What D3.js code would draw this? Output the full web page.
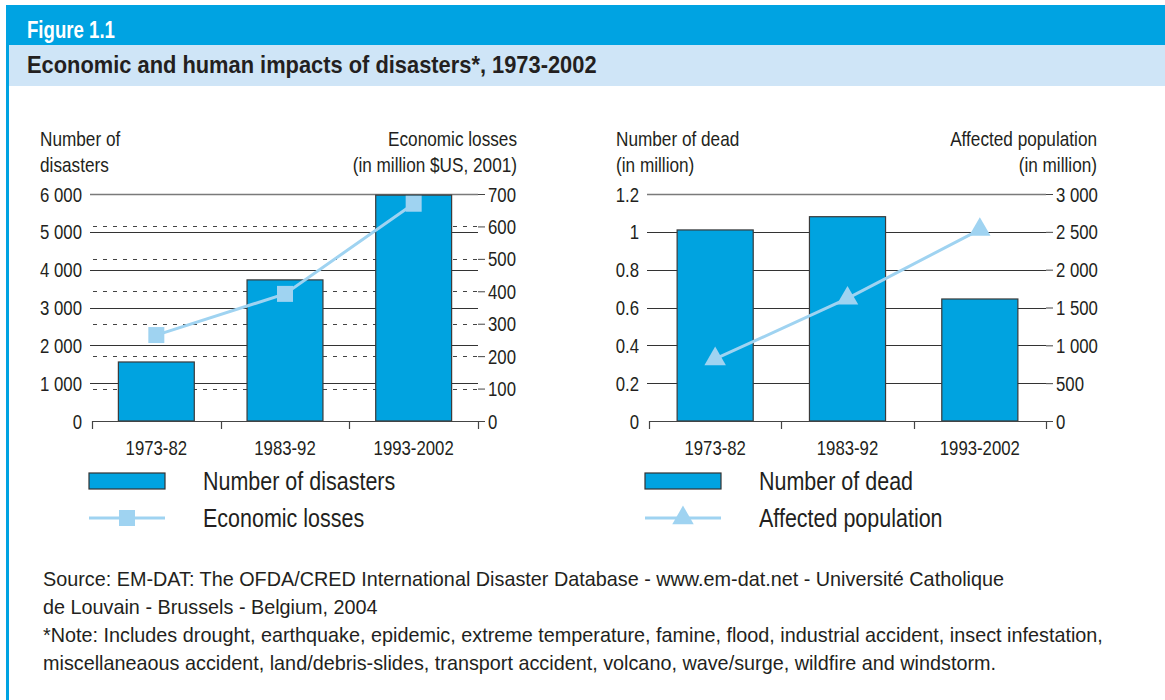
<!DOCTYPE html>
<html>
<head>
<meta charset="utf-8">
<script src="https://cdn.jsdelivr.net/npm/d3@7"></script>
<style>
  html, body { margin: 0; padding: 0; background: #fff; }
  svg { display: block; }
  text { font-family: "Liberation Sans", Arial, Helvetica, sans-serif; fill: #231f20; }
</style>
</head>
<body>
<svg id="chart" width="1165" height="700"></svg>
<script>
// ---- data ----
const periods = ["1973-82", "1983-92", "1993-2002"];
const disasterCounts = [1560, 3730, 5970];          // number of disasters
const economicLosses = [265, 392, 670];              // million $US (2001)
const deadMillions = [1.01, 1.08, 0.645];            // number of dead, million
const affectedMillions = [820, 1620, 2530];          // affected population, million

const leftTicks = [0, 1000, 2000, 3000, 4000, 5000, 6000];
const lossTicks = [0, 100, 200, 300, 400, 500, 600, 700];
const deadTicks = [0, 0.2, 0.4, 0.6, 0.8, 1, 1.2];
const affectedTicks = [0, 500, 1000, 1500, 2000, 2500, 3000];

// ---- styling ----
const BLUE = "#00a3e2";
const PALE = "#cfe5f7";
const BAR = "#00a3e0";
const LINE = "#9fd3f1";
const INK = "#231f20";
const K = 0.86; // horizontal condensing of the type

const svg = d3.select("#chart");
const fmtSpace = d => d3.format(",")(d).replace(/,/g, " ");

// condensed text helper
function ctext(g, x, y, str, size, opts = {}) {
  const t = g.append("text")
    .attr("transform", `translate(${x},${y}) scale(${opts.k || K},1)`)
    .attr("font-size", size)
    .attr("text-anchor", opts.anchor || "start")
    .text(str);
  if (opts.bold) t.attr("font-weight", "bold");
  if (opts.fill) t.style("fill", opts.fill);
  return t;
}

// ---- frame and header ----
svg.append("rect").attr("x", 8).attr("y", 5).attr("width", 1157).attr("height", 40).attr("fill", BLUE);
svg.append("rect").attr("x", 8).attr("y", 45).attr("width", 1157).attr("height", 41).attr("fill", PALE);
svg.append("rect").attr("x", 6).attr("y", 5).attr("width", 3).attr("height", 695).attr("fill", BLUE);
ctext(svg, 27, 38, "Figure 1.1", 24.5, { bold: true, fill: "#fff", k: 0.76 });
ctext(svg, 27, 73, "Economic and human impacts of disasters*, 1973-2002", 23.5, { bold: true, k: 0.93 });

// ---- generic dual-axis panel ----
function panel(cfg) {
  const g = svg.append("g");
  const x = d3.scaleBand().domain(periods).range([cfg.x0, cfg.x1]).paddingInner(cfg.pad).paddingOuter(cfg.pad / 2);
  const yL = d3.scaleLinear().domain([0, cfg.leftTicks[cfg.leftTicks.length - 1]]).range([421, 194]);
  const yR = d3.scaleLinear().domain([0, cfg.rightTicks[cfg.rightTicks.length - 1]]).range([421, 194]);

  // dashed grid for the right axis (when it does not coincide with the left one)
  if (cfg.dashed) {
    g.append("g").selectAll("line").data(cfg.rightTicks.filter(d => d > 0 && d < cfg.rightTicks[cfg.rightTicks.length - 1]))
      .join("line")
      .attr("x1", cfg.x0 + 1).attr("x2", cfg.x1)
      .attr("y1", d => Math.round(yR(d)) + 0.5).attr("y2", d => Math.round(yR(d)) + 0.5)
      .attr("stroke", "#444").attr("stroke-width", 1).attr("stroke-dasharray", "4,6");
  }
  // solid grid for the left axis
  g.append("g").selectAll("line").data(cfg.leftTicks.filter(d => d > 0))
    .join("line")
    .attr("x1", cfg.x0 - 2).attr("x2", cfg.x1)
    .attr("y1", d => Math.round(yL(d)) + 0.5).attr("y2", d => Math.round(yL(d)) + 0.5)
    .attr("stroke", (d, i, a) => i === a.length - 1 ? "#7a7a7a" : "#333")
    .attr("stroke-width", (d, i, a) => i === a.length - 1 ? 1.5 : 1);

  // right axis ticks and labels
  const rAxis = d3.axisRight(yR).tickValues(cfg.rightTicks).tickSize(7).tickPadding(3).tickFormat(cfg.rightFmt);
  const ra = g.append("g").attr("transform", `translate(${cfg.x1},0)`).call(rAxis);
  ra.select(".domain").remove();
  ra.selectAll(".tick line").attr("stroke", "#444");
  ra.selectAll(".tick text").attr("font-size", null).attr("x", null).attr("dy", null)
    .each(function () {
      const t = d3.select(this);
      t.attr("transform", `translate(10,7) scale(${K},1)`).attr("font-size", 19.5).style("fill", INK)
        .attr("font-family", null);
    });

  // left axis labels
  const lAxis = d3.axisLeft(yL).tickValues(cfg.leftTicks).tickSize(0).tickPadding(0).tickFormat(cfg.leftFmt);
  const la = g.append("g").attr("transform", `translate(${cfg.x0 - 10},0)`).call(lAxis);
  la.select(".domain").remove();
  la.selectAll(".tick text").attr("x", null).attr("dy", null).attr("font-family", null)
    .attr("transform", `translate(0,7) scale(${K},1)`).attr("font-size", 19.5).style("fill", INK);

  // bars
  g.append("g").selectAll("rect").data(cfg.bars).join("rect")
    .attr("x", (d, i) => x(periods[i]))
    .attr("width", x.bandwidth())
    .attr("y", d => yL(d))
    .attr("height", d => 421 - yL(d))
    .attr("fill", BAR).attr("stroke", "#3a3a3a").attr("stroke-width", 1.2);

  // bottom axis
  const bAxis = d3.axisBottom(x).tickSize(0).tickPadding(0);
  const ba = g.append("g").attr("transform", "translate(0,421)").call(bAxis);
  ba.select(".domain").remove();
  ba.selectAll(".tick text").attr("y", null).attr("dy", null).attr("font-family", null)
    .attr("transform", `translate(0,34) scale(${K},1)`).attr("font-size", 19.5).style("fill", INK);
  g.append("line").attr("x1", cfg.x0).attr("x2", cfg.x1).attr("y1", 421.5).attr("y2", 421.5)
    .attr("stroke", "#444").attr("stroke-width", 1.2);
  const bounds = [cfg.x0].concat(periods.map(p => x(p) + x.bandwidth() + x.step() * cfg.pad / 2));
  g.append("g").selectAll("line").data(bounds).join("line")
    .attr("x1", d => Math.round(d) + 0.5).attr("x2", d => Math.round(d) + 0.5)
    .attr("y1", 421).attr("y2", 429).attr("stroke", "#444").attr("stroke-width", 1.2);

  // line series
  const pts = cfg.line.map((v, i) => [x(periods[i]) + x.bandwidth() / 2, yR(v)]);
  g.append("path").attr("d", d3.line()(pts)).attr("fill", "none").attr("stroke", LINE).attr("stroke-width", 3);
  g.append("g").selectAll("path").data(pts).join("path")
    .attr("transform", d => `translate(${d[0]},${d[1]})`)
    .attr("d", d3.symbol().type(cfg.symbol).size(cfg.symbolSize))
    .attr("fill", LINE);

  // axis titles
  ctext(g, cfg.titleLX, 146, cfg.titleL[0], 20);
  ctext(g, cfg.titleLX, 172, cfg.titleL[1], 20);
  ctext(g, cfg.titleRX, 146, cfg.titleR[0], 20, { anchor: "end" });
  ctext(g, cfg.titleRX, 172, cfg.titleR[1], 20, { anchor: "end" });

  // legend
  const lg = g.append("g");
  lg.append("rect").attr("x", cfg.legX).attr("y", 473).attr("width", 76).attr("height", 16)
    .attr("fill", BAR).attr("stroke", "#333").attr("stroke-width", 1.2);
  lg.append("line").attr("x1", cfg.legX).attr("x2", cfg.legX + 76).attr("y1", 518).attr("y2", 518)
    .attr("stroke", LINE).attr("stroke-width", 3);
  lg.append("path").attr("transform", `translate(${cfg.legX + 38},518)`)
    .attr("d", d3.symbol().type(cfg.symbol).size(cfg.symbolSize)).attr("fill", LINE);
  ctext(lg, cfg.legX + 114, 490, cfg.legend[0], 25);
  ctext(lg, cfg.legX + 114, 527, cfg.legend[1], 25);
}

panel({
  x0: 92, x1: 478, pad: 0.41,
  leftTicks: leftTicks, rightTicks: lossTicks, dashed: true,
  leftFmt: fmtSpace, rightFmt: d3.format("d"),
  bars: disasterCounts, line: economicLosses,
  symbol: d3.symbolSquare, symbolSize: 256,
  titleL: ["Number of", "disasters"], titleLX: 40,
  titleR: ["Economic losses", "(in million $US, 2001)"], titleRX: 517,
  legX: 89, legend: ["Number of disasters", "Economic losses"]
});

panel({
  x0: 649, x1: 1046, pad: 0.425,
  leftTicks: deadTicks, rightTicks: affectedTicks, dashed: false,
  leftFmt: d => d === 0 || d === 1 ? String(d) : d3.format(".1f")(d), rightFmt: fmtSpace,
  bars: deadMillions, line: affectedMillions,
  symbol: d3.symbolTriangle, symbolSize: 200,
  titleL: ["Number of dead", "(in million)"], titleLX: 616,
  titleR: ["Affected population", "(in million)"], titleRX: 1097,
  legX: 645, legend: ["Number of dead", "Affected population"]
});

// ---- source and note ----
const notes = [
  "Source: EM-DAT: The OFDA/CRED International Disaster Database - www.em-dat.net - Université Catholique",
  "de Louvain - Brussels - Belgium, 2004",
  "*Note: Includes drought, earthquake, epidemic, extreme temperature, famine, flood, industrial accident, insect infestation,",
  "miscellaneaous accident, land/debris-slides, transport accident, volcano, wave/surge, wildfire and windstorm."
];
const ng = svg.append("g");
notes.forEach((s, i) => ctext(ng, 43, 586 + i * 28, s, 21, { k: 0.943 }));
</script>
</body>
</html>
